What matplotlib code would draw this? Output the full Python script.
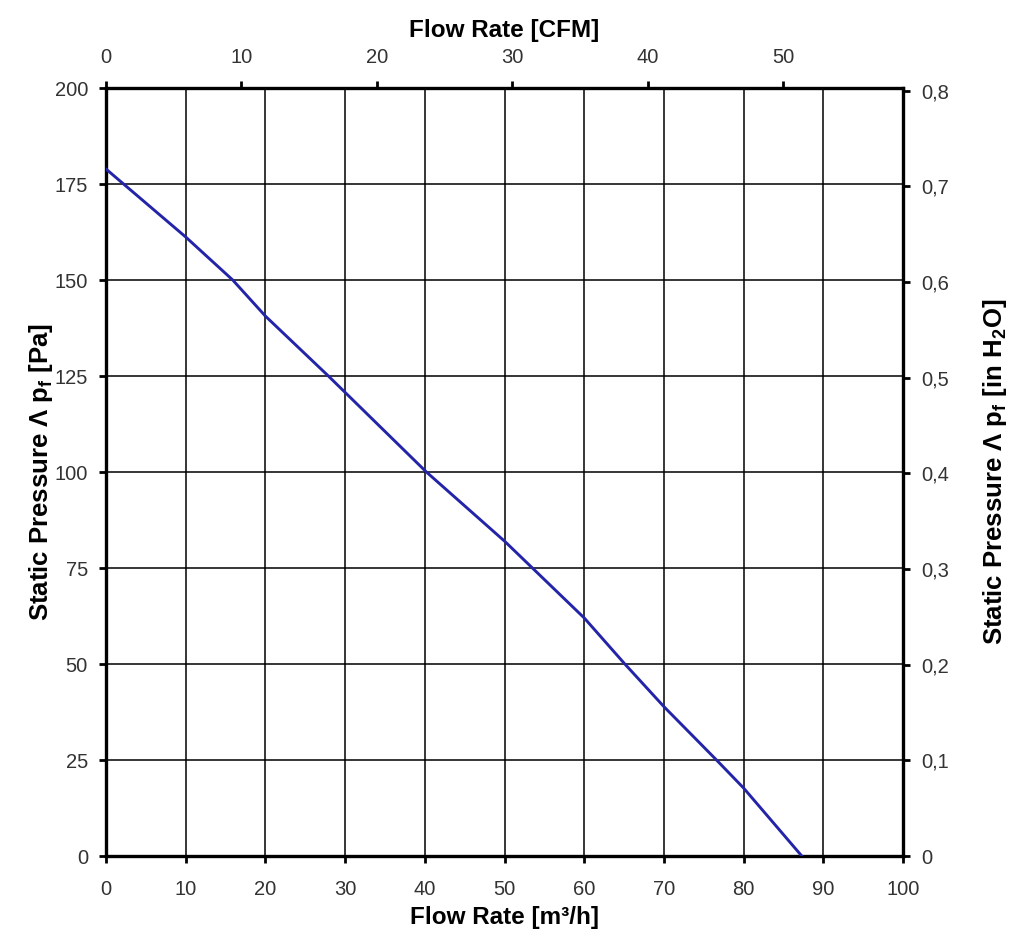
import matplotlib.pyplot as plt
from matplotlib.ticker import FuncFormatter

plt.rcParams['font.family'] = ['Liberation Sans', 'DejaVu Sans']

# fan curve
flow_m3h = [0, 10, 15.9, 20, 27.9, 40.2, 50, 53.5, 60, 65.1, 70, 76.6, 80, 87.3]
pressure_pa = [178.9, 161.2, 150, 140.6, 125, 100, 82, 75, 62, 50, 38.9, 25, 17.7, 0]

x_ticks = list(range(0, 101, 10))
y_ticks = list(range(0, 201, 25))
cfm_ticks = [0, 10, 20, 30, 40, 50]
inh2o_ticks = [0, 0.1, 0.2, 0.3, 0.4, 0.5, 0.6, 0.7, 0.8]

M3H_PER_CFM = 1.699
PA_PER_INH2O = 249.09

fig = plt.figure(figsize=(10.24, 9.49), dpi=100)
ax = fig.add_axes([106 / 1024, 93 / 949, 797 / 1024, 768 / 949])

ax.plot(flow_m3h, pressure_pa, color='#2424a8', lw=2.1, zorder=3)

ax.set_xlim(0, 100)
ax.set_ylim(0, 200)
ax.set_xticks(x_ticks)
ax.set_yticks(y_ticks)
ax.grid(True, color='black', lw=1.1)
for s in ax.spines.values():
    s.set_linewidth(2.4)

tick_kw = dict(direction='out', length=5, width=2, labelsize=14.5, labelcolor='#333333')
ax.tick_params(axis='x', pad=12, **tick_kw)
ax.tick_params(axis='y', pad=8, **tick_kw)

ax.set_xlabel('Flow Rate [m³/h]', fontsize=17.5, fontweight='bold', labelpad=5)
ax.set_ylabel('Static Pressure Λ p$_\\mathregular{f}$ [Pa]', fontsize=18.5,
              fontweight='bold', labelpad=0)

top = ax.secondary_xaxis('top', functions=(lambda x: x / M3H_PER_CFM,
                                           lambda c: c * M3H_PER_CFM))
top.set_xticks(cfm_ticks)
top.tick_params(pad=10, **tick_kw)
top.set_xlabel('Flow Rate [CFM]', fontsize=17.5, fontweight='bold', labelpad=8)

right = ax.secondary_yaxis('right', functions=(lambda p: p / PA_PER_INH2O,
                                               lambda h: h * PA_PER_INH2O))
right.set_yticks(inh2o_ticks)
right.yaxis.set_major_formatter(FuncFormatter(lambda v, _: f'{v:g}'.replace('.', ',')))
right.tick_params(pad=8, **tick_kw)
right.set_ylabel('Static Pressure Λ p$_\\mathregular{f}$ [in H$_\\mathregular{2}$O]',
                 fontsize=18.5, fontweight='bold', labelpad=23)

fig.savefig('out.png', dpi=100)
